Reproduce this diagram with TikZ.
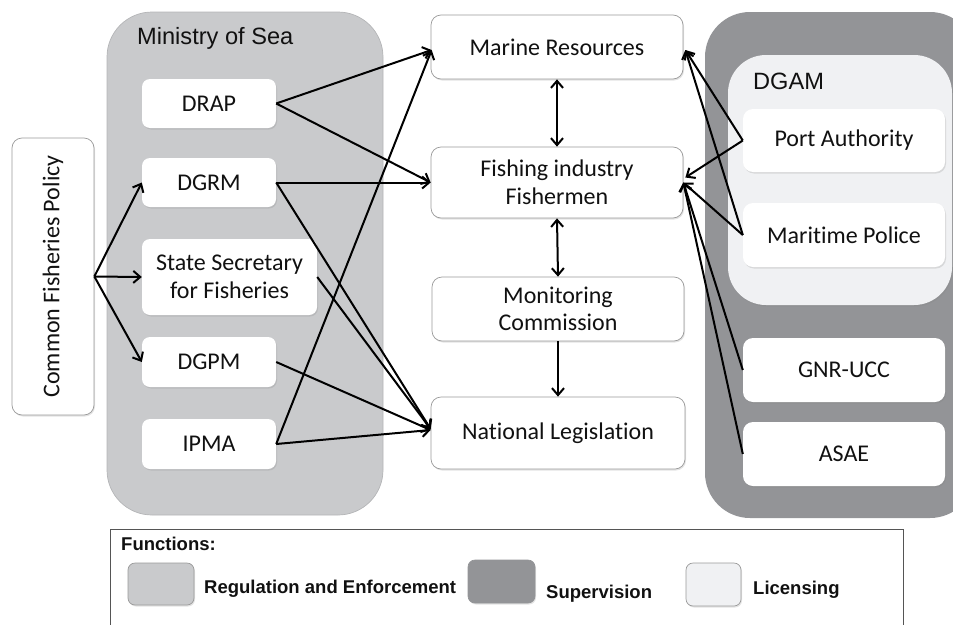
\documentclass[tikz,border=0pt]{standalone}
\usepackage{fontspec}
\setmainfont{Carlito}[Ligatures=NoCommon]
\newfontfamily\arialfont{Liberation Sans}
\usetikzlibrary{arrows.meta,shadows,calc}
\definecolor{regc}{HTML}{C9CACC}
\definecolor{regb}{HTML}{B4B5B7}
\definecolor{supc}{HTML}{939497}
\definecolor{licc}{HTML}{F0F1F3}
\definecolor{txtc}{HTML}{111111}
\definecolor{bordc}{HTML}{9A9A9A}
\definecolor{legc}{HTML}{555555}
\tikzset{
  shadowed/.style={drop shadow={opacity=0.22,shadow xshift=1pt,shadow yshift=-1.5pt}},
  cbox/.style={draw=bordc, line width=0.7pt, fill=white, rounded corners=10pt, shadowed,
    inner sep=0pt, align=center, font=\fontsize{24}{27.5}\selectfont, text=txtc},
  ibox/.style={fill=white, rounded corners=8pt, shadowed,
    inner sep=0pt, align=center, font=\fontsize{24}{27.5}\selectfont, text=txtc},
  rbox/.style={ibox, rounded corners=10pt},
  arr/.style={line width=2pt, -{Straight Barb[length=7pt,width=12pt]}},
  darr/.style={line width=2pt, {Straight Barb[length=7pt,width=12pt]}-{Straight Barb[length=7pt,width=12pt]}},
  grouplbl/.style={font=\arialfont\fontsize{23.6}{27}\selectfont, text=txtc, anchor=base west, inner sep=0pt},
  leglbl/.style={font=\arialfont\bfseries\fontsize{18.5}{21}\selectfont, text=txtc, anchor=base west, inner sep=0pt},
  swatch/.style={draw=bordc, line width=0.7pt, rounded corners=7pt, shadowed},
}
\begin{document}
\begin{tikzpicture}[x=1pt,y=-1pt]
\useasboundingbox (0,0) rectangle (953,624);

% group backgrounds
\draw[fill=regc, draw=regb, line width=0.7pt, rounded corners=45pt] (107,12) rectangle (383,515);
\node[grouplbl] (mos) at (137,44) {Ministry of Sea};
\fill[supc, rounded corners=45pt] (705,12) rectangle (975,518);
\fill[licc, rounded corners=38pt, drop shadow={opacity=0.2,shadow xshift=1pt,shadow yshift=-1.5pt}] (728,55) rectangle (952,305);
\node[grouplbl] (dgam) at (753,89) {DGAM};

% left policy box
\node[cbox, minimum width=82pt, minimum height=277pt] (cfp) at (53,276.5) {};
\node[rotate=90, font=\fontsize{24}{27.5}\selectfont, text=txtc] (cfpt) at (cfp.center) {Common Fisheries Policy};

% ministry boxes
\node[ibox, minimum width=134pt, minimum height=49pt] (drap) at (209,103.5) {DRAP};
\node[ibox, minimum width=134pt, minimum height=49pt] (dgrm) at (209,182.5) {DGRM};
\node[ibox, minimum width=175pt, minimum height=76pt] (ss) at (229.5,277) {State Secretary\\for Fisheries};
\node[ibox, minimum width=134pt, minimum height=50pt] (dgpm) at (209,362) {DGPM};
\node[ibox, minimum width=134pt, minimum height=50pt] (ipma) at (209,444) {IPMA};

% centre boxes
\node[cbox, minimum width=252pt, minimum height=64pt] (mr) at (557,47) {Marine Resources};
\node[cbox, minimum width=252pt, minimum height=71pt] (fi) at (557,182.5) {Fishing industry\\Fishermen};
\node[cbox, minimum width=252pt, minimum height=64pt] (mc) at (558,309) {Monitoring\\Commission};
\node[cbox, minimum width=254pt, minimum height=72pt] (nl) at (558,433) {National Legislation};

% right boxes
\node[rbox, minimum width=202pt, minimum height=63pt] (pa) at (844,140.5) {Port Authority};
\node[rbox, minimum width=202pt, minimum height=64pt] (mp) at (844,235) {Maritime Police};
\node[rbox, minimum width=202pt, minimum height=64pt] (gnr) at (844,370) {GNR-UCC};
\node[rbox, minimum width=202pt, minimum height=64pt] (asae) at (844,454) {ASAE};

% connectors
\draw[arr] (cfp.east) -- (dgrm.west);
\draw[arr] (cfp.east) -- (ss.west);
\draw[arr] (cfp.east) -- (dgpm.west);
\draw[arr] (drap.east) -- ($(mr.west)+(1,3)$);
\draw[arr] (drap.east) -- (fi.west);
\draw[arr] (dgrm.east) -- (fi.west);
\draw[arr] (dgrm.east) -- ($(nl.west)+(0,-4)$);
\draw[arr] (ss.east) -- ($(nl.west)+(0,-4)$);
\draw[arr] (dgpm.east) -- ($(nl.west)+(0,-3)$);
\draw[arr] (ipma.east) -- ($(nl.west)+(0,-3)$);
\draw[arr] (ipma.east) -- ($(mr.west)+(1,3)$);
\draw[darr] (mr.south) -- (fi.north);
\draw[darr] (fi.south) -- (mc.north);
\draw[arr] (mc.south) -- (nl.north);
\draw[arr] (pa.west) -- ($(mr.east)+(2,3)$);
\draw[arr] (pa.west) -- ($(fi.east)+(2,-5)$);
\draw[arr] (mp.west) -- ($(mr.east)+(2,3)$);
\draw[arr] (mp.west) -- (fi.east);
\draw[arr] (gnr.west) -- (fi.east);
\draw[arr] (asae.west) -- (fi.east);

% legend
\draw[draw=legc, line width=1pt] (110,529) rectangle (903,640);
\node[leglbl] (fn) at (121,550) {Functions:};
\draw[swatch, fill=regc] (128,563) rectangle (194,605);
\node[leglbl] (l1) at (204,593) {Regulation and Enforcement};
\draw[swatch, fill=supc, draw=supc] (468,560) rectangle (535,603);
\node[leglbl] (l2) at (546,598) {Supervision};
\draw[swatch, fill=licc] (686,563) rectangle (741,606);
\node[leglbl] (l3) at (753,594) {Licensing};
\end{tikzpicture}
\end{document}
